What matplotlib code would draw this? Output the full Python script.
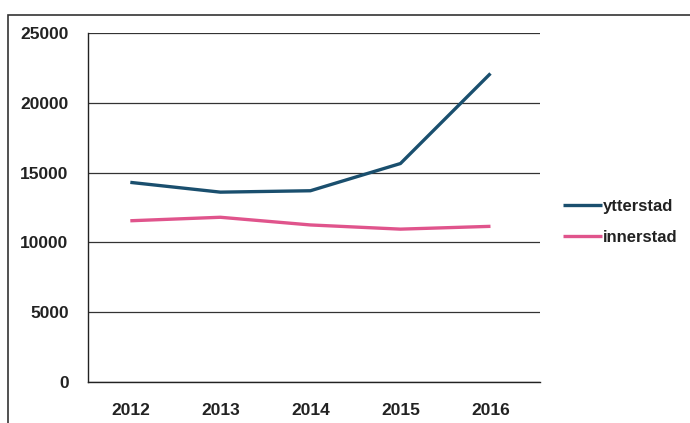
import matplotlib
matplotlib.use("Agg")
import matplotlib.pyplot as plt
from matplotlib.patches import Rectangle

years = ["2012", "2013", "2014", "2015", "2016"]
ytterstad = [14300, 13600, 13700, 15650, 22100]
innerstad = [11550, 11800, 11250, 10950, 11150]
yticks = [0, 5000, 10000, 15000, 20000, 25000]

plt.rcParams['font.family'] = ['Liberation Sans', 'DejaVu Sans']

fig = plt.figure(figsize=(6.9, 4.23), dpi=100)
ax = fig.add_axes([88/690, 1-382/423, (540-88)/690, (382-33)/423])

x = list(range(len(years)))
ax.plot(x, ytterstad, color='#1a4f6e', lw=2.4, label='ytterstad', solid_capstyle='butt')
ax.plot(x, innerstad, color='#e0548c', lw=2.4, label='innerstad', solid_capstyle='butt')

ax.set_xlim(-0.47, 4.55)
ax.set_ylim(0, 25000)
ax.set_yticks(yticks)
ax.set_yticklabels([str(v) for v in yticks])
ax.set_xticks(x)
ax.set_xticklabels(years)
ax.yaxis.grid(True, color='#333333', lw=0.9)
ax.set_axisbelow(True)
for s in ['top', 'right']:
    ax.spines[s].set_visible(False)
for s in ['left', 'bottom']:
    ax.spines[s].set_color('#222222')
    ax.spines[s].set_linewidth(1.0)
ax.tick_params(length=0, labelsize=12.5, colors='#222222')
ax.tick_params(axis='y', pad=14)
ax.tick_params(axis='x', pad=15)
for lbl in ax.get_xticklabels() + ax.get_yticklabels():
    lbl.set_fontweight('bold')

leg = fig.legend(loc='center left', bbox_to_anchor=(560/690, 1-222/423), frameon=False,
                 handlelength=2.3, handletextpad=0.1, labelspacing=1.0,
                 borderpad=0.2, borderaxespad=0.0,
                 prop={'size': 12, 'weight': 'bold'})
for t in leg.get_texts():
    t.set_color('#222222')

fig.patches.append(Rectangle((8/690, -0.1), 1.2, 1-15/423+0.1, transform=fig.transFigure,
                             fill=False, edgecolor='#333333', lw=1.2))

fig.savefig('out.png', dpi=100)
